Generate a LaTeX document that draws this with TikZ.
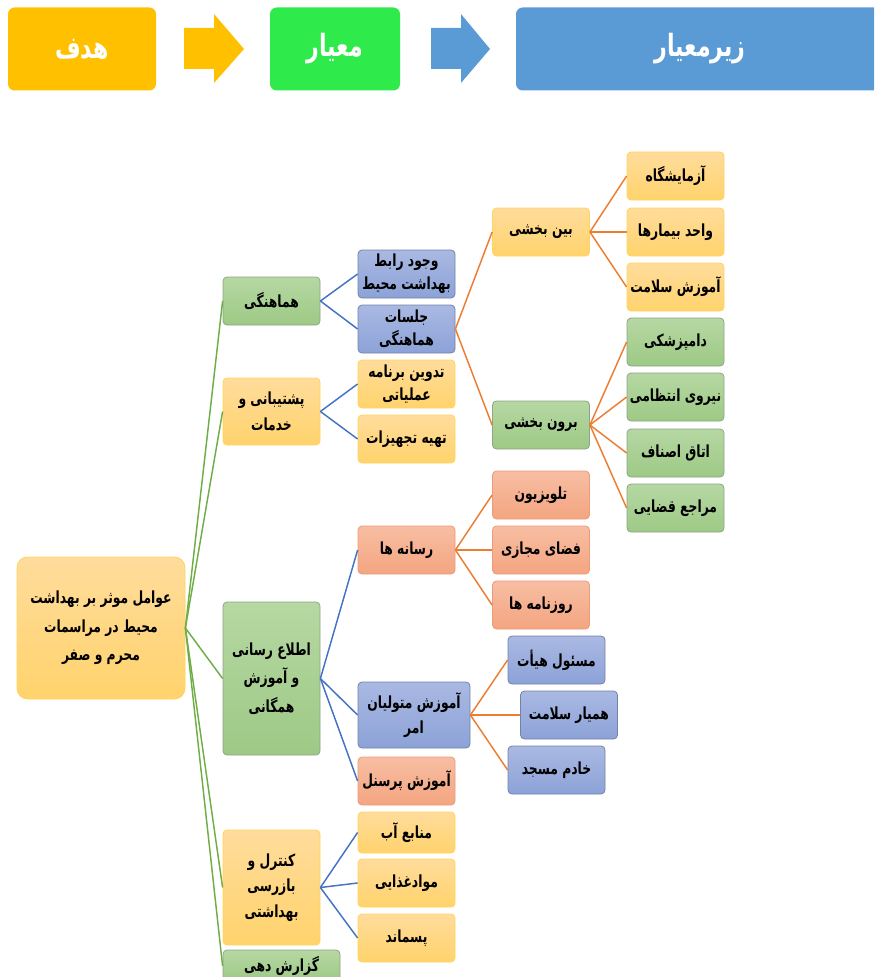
\documentclass[tikz,border=0pt]{standalone}
\usepackage{fontspec}
\usepackage{xcolor}
\usetikzlibrary{calc}
\TeXXeTstate=1
\newfontfamily\fafont[Script=Arabic, FakeStretch=0.74]{DejaVu Sans}
\newfontfamily\faheadfont[Script=Arabic, FakeStretch=0.72]{DejaVu Sans}
\newcommand{\fa}[1]{\beginR #1\endR}

\definecolor{goalgold}{HTML}{FFC000}
\definecolor{critgreen}{HTML}{2EEA4A}
\definecolor{subblue}{HTML}{5B9BD5}
\definecolor{linegreen}{HTML}{70AD47}
\definecolor{lineblue}{HTML}{4472C4}
\definecolor{lineorange}{HTML}{ED7D31}
\definecolor{yellowtop}{HTML}{FFDC9C}
\definecolor{yellowbot}{HTML}{FFD36C}
\definecolor{yellowline}{HTML}{FFD45C}
\definecolor{greentop}{HTML}{B6D8A3}
\definecolor{greenbot}{HTML}{9DC985}
\definecolor{greenline}{HTML}{8FA487}
\definecolor{bluetop}{HTML}{AAB9E3}
\definecolor{bluebot}{HTML}{8CA2D7}
\definecolor{blueline}{HTML}{7383A8}
\definecolor{salmontop}{HTML}{F7BEA3}
\definecolor{salmonbot}{HTML}{F4A580}
\definecolor{salmonline}{HTML}{EC9B78}

\tikzset{
  nodebox/.style={rounded corners=3pt, minimum width=72.75pt, minimum height=36pt,
    align=center, inner sep=0.5pt, line width=0.6pt, text=black,
    font=\fafont\bfseries\fontsize{12.5}{17}\selectfont},
  tallskip/.style={font=\fafont\bfseries\fontsize{12.5}{19}\selectfont},
  rootskip/.style={font=\fafont\bfseries\fontsize{12.5}{21.5}\selectfont},
  yellowbox/.style={nodebox, draw=yellowline, top color=yellowtop, bottom color=yellowbot},
  greenbox/.style={nodebox, draw=greenline, top color=greentop, bottom color=greenbot},
  bluebox/.style={nodebox, draw=blueline, top color=bluetop, bottom color=bluebot},
  salmonbox/.style={nodebox, draw=salmonline, top color=salmontop, bottom color=salmonbot},
  headbox/.style={rounded corners=5pt, minimum height=62.25pt, text=white,
    font=\faheadfont\bfseries\fontsize{23}{25}\selectfont},
  greenlink/.style={draw=linegreen, line width=1.1pt},
  bluelink/.style={draw=lineblue, line width=1.1pt},
  orangelink/.style={draw=lineorange, line width=1.1pt}
}

\begin{document}
\begin{tikzpicture}[x=0.75pt,y=-0.75pt]
\clip (0,0) rectangle (874,977);

% Draw header row.
\node[headbox, fill=goalgold, minimum width=111pt] (goal) at (82,49) {\fa{هدف}};
\node[headbox, fill=critgreen, minimum width=97.5pt] (crit) at (335,49) {\fa{معیار}};
\node[headbox, fill=subblue, minimum width=276pt] (subcrit) at (700,49) {\fa{زیرمعیار}};
\fill[goalgold] (184,28) -- (214,28) -- (214,14) -- (244,49) -- (214,83) -- (214,69) -- (184,69) -- cycle;
\fill[subblue] (431,28) -- (461,28) -- (461,14) -- (490,49) -- (461,83) -- (461,69) -- (431,69) -- cycle;

% Draw root and criteria.
\node[yellowbox, rootskip, rounded corners=8pt, minimum width=126pt, minimum height=106.5pt] (root) at (101,628)
  {\fa{عوامل موثر بر بهداشت}\\\fa{محیط در مراسمات}\\\fa{محرم و صفر}};
\node[greenbox] (hamahangi) at (271.5,301) {\fa{هماهنگی}};
\node[yellowbox, tallskip, minimum height=50.25pt] (poshtibani) at (271.5,411.5) {\fa{پشتیبانی و}\\\fa{خدمات}};
\node[greenbox, rootskip, minimum height=114.75pt] (etela) at (271.5,678.5)
  {\fa{اطلاع رسانی}\\\fa{و آموزش}\\\fa{همگانی}};
\node[yellowbox, tallskip, minimum height=86.25pt] (kontrol) at (271.5,887.5) {\fa{کنترل و}\\\fa{بازرسی}\\\fa{بهداشتی}};
\node[greenbox, minimum width=87.75pt, minimum height=24pt] (gozaresh) at (281.5,966) {\fa{گزارش دهی}};

% Draw sub-criteria.
\node[bluebox] (rabet) at (406.5,274) {\fa{وجود رابط}\\\fa{بهداشت محیط}};
\node[bluebox] (jalasat) at (406.5,329) {\fa{جلسات}\\\fa{هماهنگی}};
\node[yellowbox] (tadvin) at (406.5,384) {\fa{تدوین برنامه}\\\fa{عملیاتی}};
\node[yellowbox] (tahie) at (406.5,439) {\fa{تهیه تجهیزات}};
\node[salmonbox] (resane) at (406.5,550) {\fa{رسانه ها}};
\node[bluebox, tallskip, minimum width=84pt, minimum height=49.5pt] (motavalian) at (414,715) {\fa{آموزش متولیان}\\\fa{امر}};
\node[salmonbox] (personel) at (406.5,781) {\fa{آموزش پرسنل}};
\node[yellowbox, minimum height=30.75pt] (manabe) at (406.5,832.5) {\fa{منابع آب}};
\node[yellowbox] (mavad) at (406.5,883) {\fa{موادغذایی}};
\node[yellowbox] (pasmand) at (406.5,938) {\fa{پسماند}};

% Draw third level.
\node[yellowbox] (bein) at (541,232) {\fa{بین بخشی}};
\node[greenbox] (boron) at (541,425) {\fa{برون بخشی}};
\node[salmonbox] (tv) at (541,495) {\fa{تلویزیون}};
\node[salmonbox] (majazi) at (541,550) {\fa{فضای مجازی}};
\node[salmonbox] (roozname) at (541,605) {\fa{روزنامه ها}};
\node[bluebox] (masool) at (556.5,660) {\fa{مسئول هیأت}};
\node[bluebox] (hamyar) at (569,715) {\fa{همیار سلامت}};
\node[bluebox] (khadem) at (556.5,770) {\fa{خادم مسجد}};

% Draw fourth level.
\node[yellowbox] (azmayesh) at (675.5,176) {\fa{آزمایشگاه}};
\node[yellowbox] (vahed) at (675.5,232) {\fa{واحد بیمارها}};
\node[yellowbox] (salamat) at (675.5,287) {\fa{آموزش سلامت}};
\node[greenbox] (dam) at (675.5,342) {\fa{دامپزشکی}};
\node[greenbox] (niroo) at (675.5,397) {\fa{نیروی انتظامی}};
\node[greenbox] (otagh) at (675.5,453) {\fa{اتاق اصناف}};
\node[greenbox] (maraje) at (675.5,508) {\fa{مراجع قضایی}};

% Draw connectors.
\foreach \n in {hamahangi,poshtibani,etela,kontrol,gozaresh}
\draw[greenlink] (root.east) -- (\n.west);
\foreach \n in {rabet,jalasat}
\draw[bluelink] (hamahangi.east) -- (\n.west);
\foreach \n in {tadvin,tahie}
\draw[bluelink] (poshtibani.east) -- (\n.west);
\foreach \n in {resane,motavalian,personel}
\draw[bluelink] (etela.east) -- (\n.west);
\foreach \n in {manabe,mavad,pasmand}
\draw[bluelink] (kontrol.east) -- (\n.west);
\foreach \n in {bein,boron}
\draw[orangelink] (jalasat.east) -- (\n.west);
\foreach \n in {azmayesh,vahed,salamat}
\draw[orangelink] (bein.east) -- (\n.west);
\foreach \n in {dam,niroo,otagh,maraje}
\draw[orangelink] (boron.east) -- (\n.west);
\foreach \n in {tv,majazi,roozname}
\draw[orangelink] (resane.east) -- (\n.west);
\foreach \n in {masool,hamyar,khadem}
\draw[orangelink] (motavalian.east) -- (\n.west);
\end{tikzpicture}
\end{document}
